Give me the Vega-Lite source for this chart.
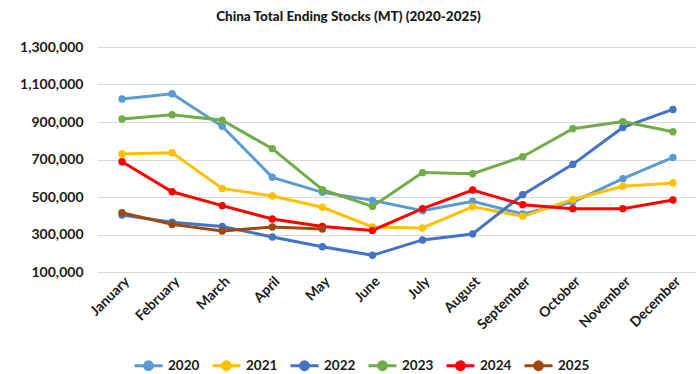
{
  "$schema": "https://vega.github.io/schema/vega-lite/v6.json",
  "autosize": "none",
  "width": 601,
  "height": 225,
  "padding": {"left": 97, "top": 47, "right": 0, "bottom": 102},
  "background": "white",
  "title": {
    "text": "China Total Ending Stocks (MT) (2020-2025)",
    "font": "Lato",
    "fontSize": 13.5,
    "fontWeight": 900,
    "color": "#1a1a1a",
    "anchor": "middle",
    "dx": -49,
    "offset": 17
  },
  "data": {
    "values": [
      {"month": "January", "year": "2020", "v": 1023000},
      {"month": "February", "year": "2020", "v": 1051000},
      {"month": "March", "year": "2020", "v": 877000},
      {"month": "April", "year": "2020", "v": 605000},
      {"month": "May", "year": "2020", "v": 525000},
      {"month": "June", "year": "2020", "v": 482000},
      {"month": "July", "year": "2020", "v": 427000},
      {"month": "August", "year": "2020", "v": 477000},
      {"month": "September", "year": "2020", "v": 409000},
      {"month": "October", "year": "2020", "v": 473000},
      {"month": "November", "year": "2020", "v": 598000},
      {"month": "December", "year": "2020", "v": 711000},
      {"month": "January", "year": "2021", "v": 729000},
      {"month": "February", "year": "2021", "v": 736000},
      {"month": "March", "year": "2021", "v": 546000},
      {"month": "April", "year": "2021", "v": 505000},
      {"month": "May", "year": "2021", "v": 445000},
      {"month": "June", "year": "2021", "v": 340000},
      {"month": "July", "year": "2021", "v": 335000},
      {"month": "August", "year": "2021", "v": 448000},
      {"month": "September", "year": "2021", "v": 397000},
      {"month": "October", "year": "2021", "v": 487000},
      {"month": "November", "year": "2021", "v": 557000},
      {"month": "December", "year": "2021", "v": 575000},
      {"month": "January", "year": "2022", "v": 404000},
      {"month": "February", "year": "2022", "v": 365000},
      {"month": "March", "year": "2022", "v": 343000},
      {"month": "April", "year": "2022", "v": 287000},
      {"month": "May", "year": "2022", "v": 235000},
      {"month": "June", "year": "2022", "v": 189000},
      {"month": "July", "year": "2022", "v": 271000},
      {"month": "August", "year": "2022", "v": 303000},
      {"month": "September", "year": "2022", "v": 512000},
      {"month": "October", "year": "2022", "v": 674000},
      {"month": "November", "year": "2022", "v": 871000},
      {"month": "December", "year": "2022", "v": 967000},
      {"month": "January", "year": "2023", "v": 916000},
      {"month": "February", "year": "2023", "v": 939000},
      {"month": "March", "year": "2023", "v": 909000},
      {"month": "April", "year": "2023", "v": 758000},
      {"month": "May", "year": "2023", "v": 539000},
      {"month": "June", "year": "2023", "v": 450000},
      {"month": "July", "year": "2023", "v": 630000},
      {"month": "August", "year": "2023", "v": 624000},
      {"month": "September", "year": "2023", "v": 715000},
      {"month": "October", "year": "2023", "v": 864000},
      {"month": "November", "year": "2023", "v": 902000},
      {"month": "December", "year": "2023", "v": 848000},
      {"month": "January", "year": "2024", "v": 688000},
      {"month": "February", "year": "2024", "v": 528000},
      {"month": "March", "year": "2024", "v": 454000},
      {"month": "April", "year": "2024", "v": 383000},
      {"month": "May", "year": "2024", "v": 343000},
      {"month": "June", "year": "2024", "v": 322000},
      {"month": "July", "year": "2024", "v": 438000},
      {"month": "August", "year": "2024", "v": 537000},
      {"month": "September", "year": "2024", "v": 459000},
      {"month": "October", "year": "2024", "v": 438000},
      {"month": "November", "year": "2024", "v": 438000},
      {"month": "December", "year": "2024", "v": 484000},
      {"month": "January", "year": "2025", "v": 416000},
      {"month": "February", "year": "2025", "v": 354000},
      {"month": "March", "year": "2025", "v": 319000},
      {"month": "April", "year": "2025", "v": 340000},
      {"month": "May", "year": "2025", "v": 329000}
    ]
  },
  "mark": {"type": "line", "strokeWidth": 3, "point": {"filled": true, "size": 55, "opacity": 1}},
  "encoding": {
    "x": {
      "field": "month",
      "type": "ordinal",
      "sort": ["January","February","March","April","May","June","July","August","September","October","November","December"],
      "scale": {"type": "point", "padding": 0.5},
      "axis": {
        "title": null,
        "labelAngle": -45,
        "labelFont": "Lato",
        "labelFontSize": 14,
        "labelFontWeight": "bold",
        "labelColor": "#1a1a1a",
        "domain": false,
        "ticks": false,
        "grid": false,
        "labelPadding": 2
      }
    },
    "y": {
      "field": "v",
      "type": "quantitative",
      "scale": {"domain": [100000, 1300000], "nice": false, "zero": false},
      "axis": {
        "title": null,
        "values": [100000, 300000, 500000, 700000, 900000, 1100000, 1300000],
        "format": ",d",
        "labelFont": "Lato",
        "labelFontSize": 14,
        "labelFontWeight": "bold",
        "labelColor": "#1a1a1a",
        "domain": false,
        "ticks": false,
        "gridColor": "#d9d9d9",
        "gridWidth": 1,
        "labelPadding": 14
      }
    },
    "color": {
      "field": "year",
      "type": "nominal",
      "scale": {
        "domain": ["2020","2021","2022","2023","2024","2025"],
        "range": ["#5B9BD5","#FFC000","#4472C4","#70AD47","#FF0000","#9E480E"]
      },
      "legend": {
        "title": null,
        "orient": "none",
        "direction": "horizontal",
        "legendX": 36,
        "legendY": 303,
        "labelFont": "Lato",
        "labelFontSize": 13.5,
        "labelFontWeight": "bold",
        "labelColor": "#1a1a1a",
        "symbolType": "M-1,0H1M-0.28,0A0.28,0.28 0 1,1 0.28,0A0.28,0.28 0 1,1 -0.28,0Z",
        "symbolSize": 784,
        "symbolStrokeWidth": 3,
        "symbolOffset": 0,
        "labelOffset": 4,
        "columnPadding": 6,
        "encode": {
          "symbols": {"update": {"fill": {"scale": "color", "field": "value"}, "stroke": {"scale": "color", "field": "value"}, "opacity": {"value": 1}}}
        }
      }
    }
  },
  "config": {"view": {"stroke": null}}
}
